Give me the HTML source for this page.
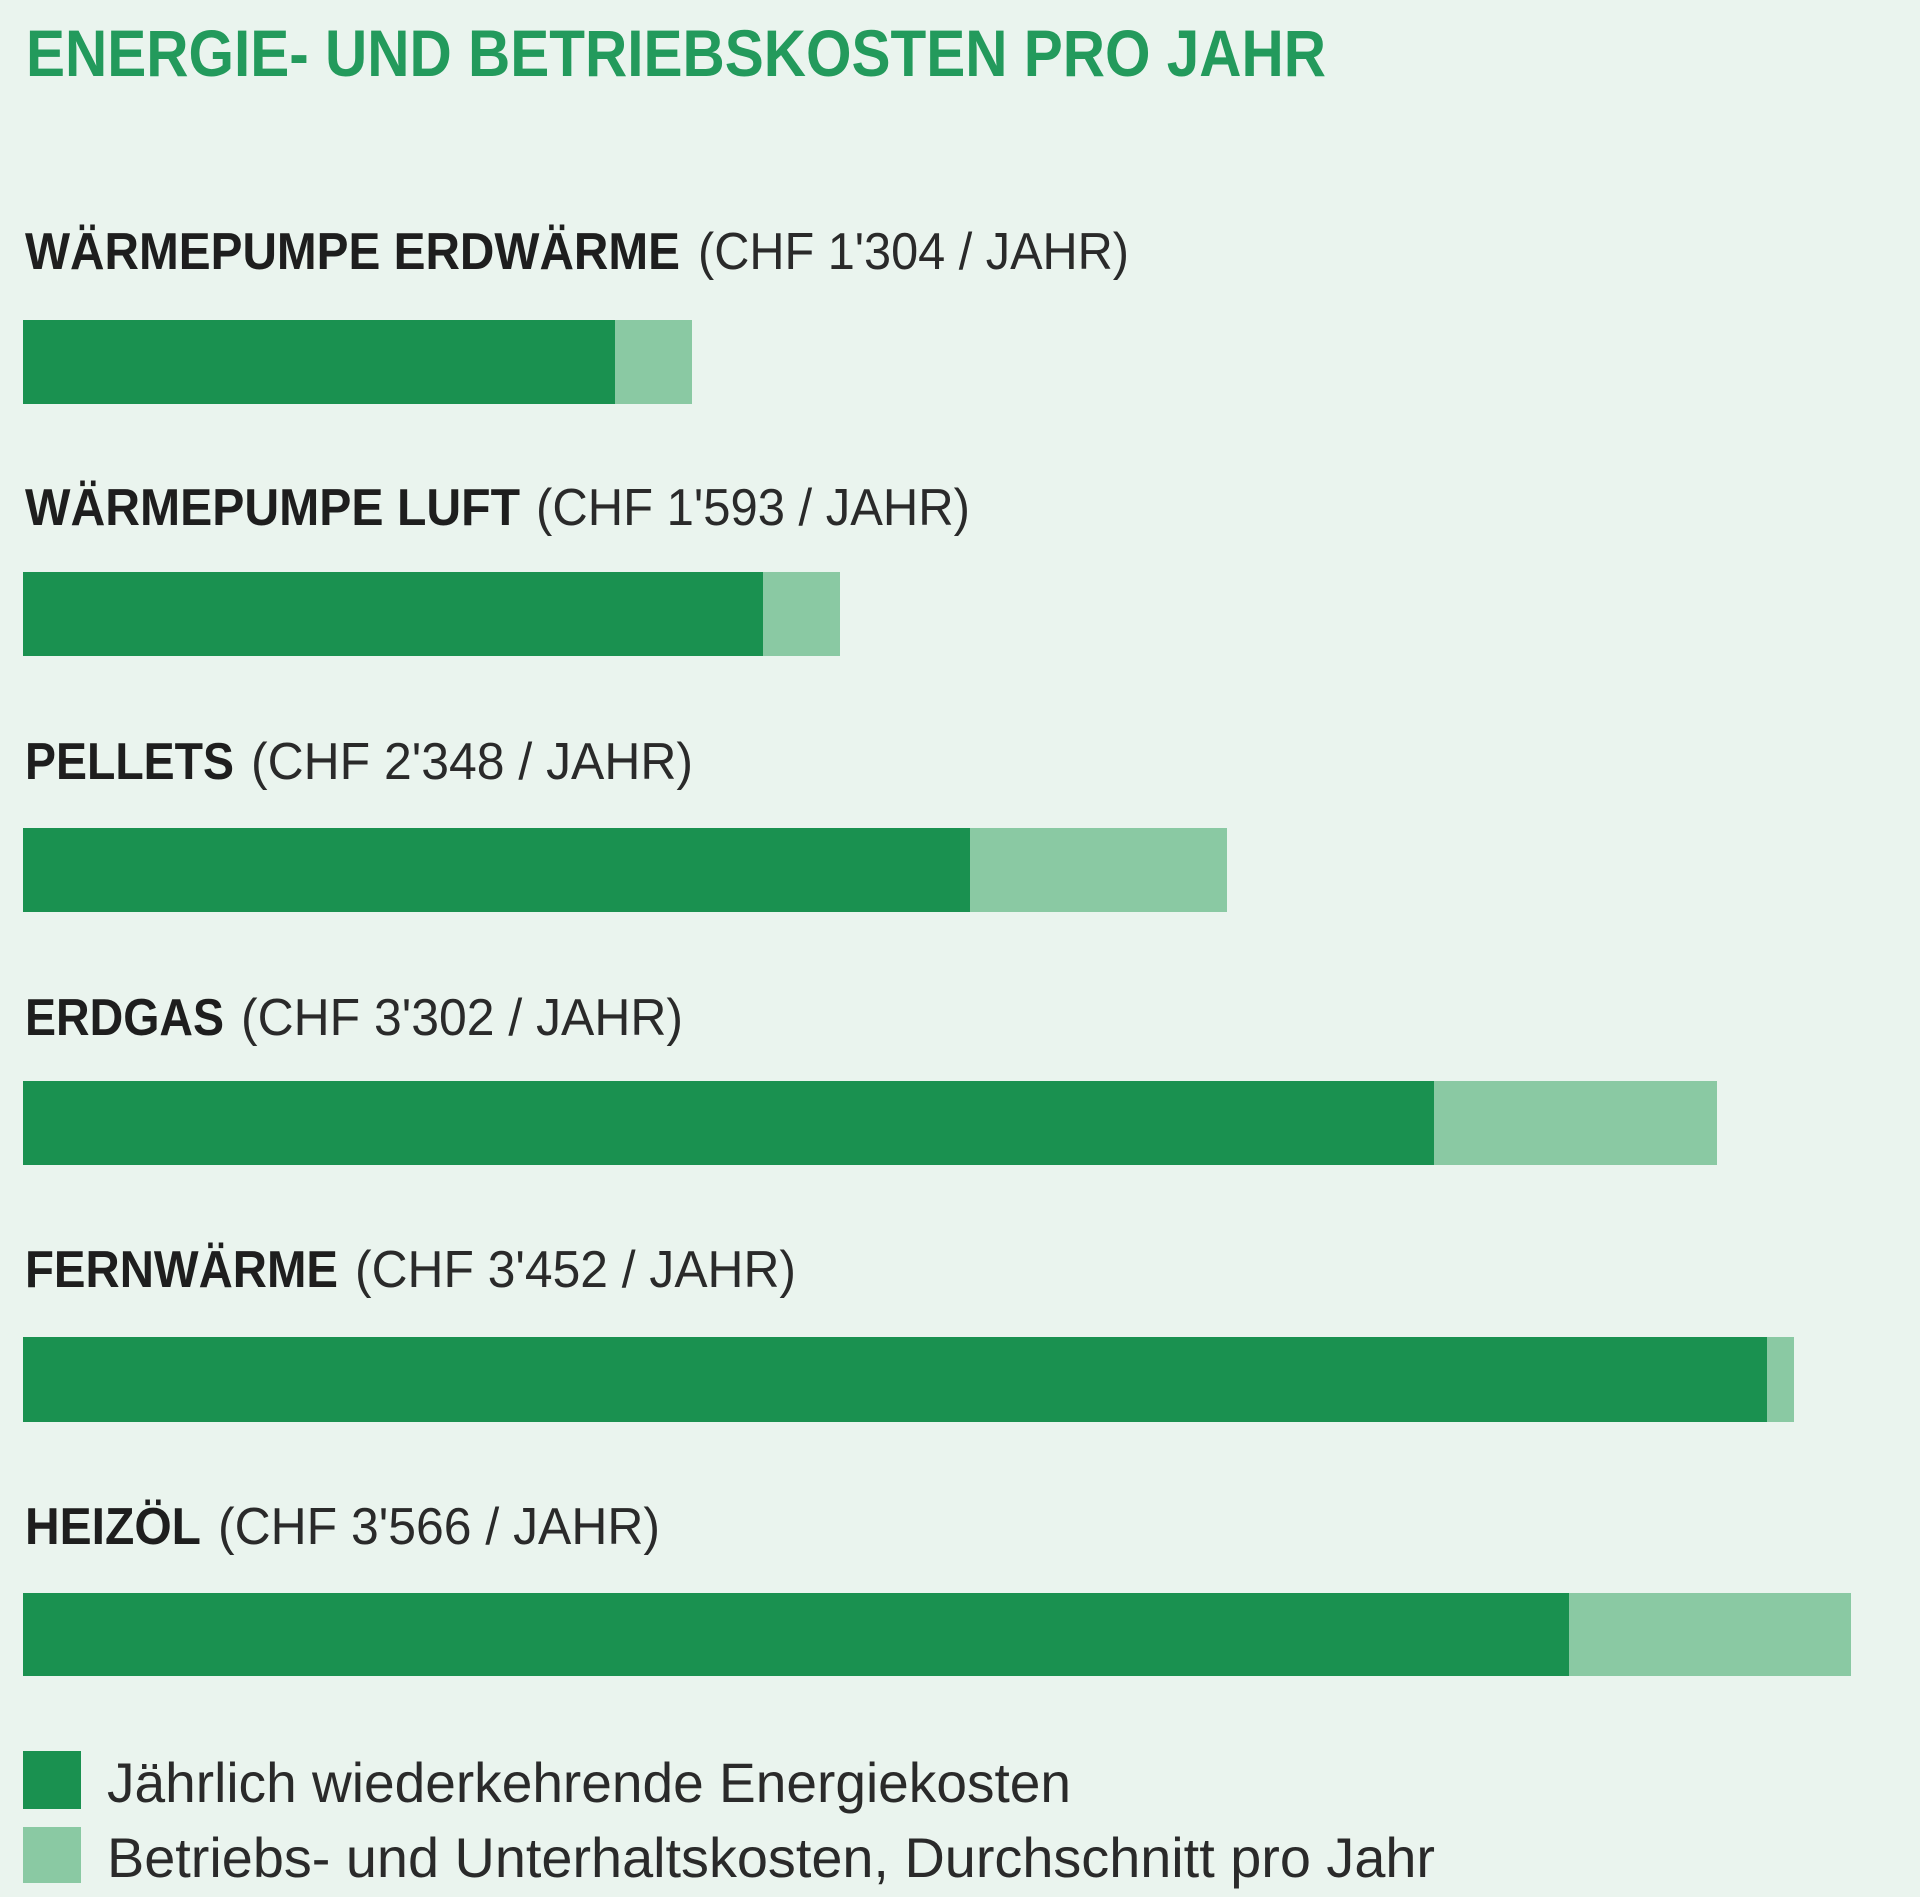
<!DOCTYPE html>
<html><head><meta charset="utf-8"><style>
html,body{margin:0;padding:0;background:#eaf4ee;}
svg{display:block;}
text{font-family:"Liberation Sans",sans-serif;}
.b{font-weight:bold;fill:#1e1e1e;font-size:52px;}
.r{fill:#2a2a2a;font-size:52px;}
</style></head><body>
<svg width="1920" height="1897" viewBox="0 0 1920 1897" xmlns="http://www.w3.org/2000/svg">
<rect width="1920" height="1897" fill="#eaf4ee"/>
<text x="26" y="76" font-size="66" font-weight="bold" fill="#239a5c" textLength="1300" lengthAdjust="spacingAndGlyphs">ENERGIE- UND BETRIEBSKOSTEN PRO JAHR</text>

<text class="b" x="25" y="269" textLength="655" lengthAdjust="spacingAndGlyphs">WÄRMEPUMPE ERDWÄRME</text>
<text class="r" x="698" y="269" textLength="431" lengthAdjust="spacingAndGlyphs">(CHF 1'304 / JAHR)</text>
<rect x="23" y="320" width="592" height="84" fill="#1a9150"/><rect x="615" y="320" width="77" height="84" fill="#8ac9a3"/>

<text class="b" x="25" y="525" textLength="495" lengthAdjust="spacingAndGlyphs">WÄRMEPUMPE LUFT</text>
<text class="r" x="536" y="525" textLength="434" lengthAdjust="spacingAndGlyphs">(CHF 1'593 / JAHR)</text>
<rect x="23" y="572" width="740" height="84" fill="#1a9150"/><rect x="763" y="572" width="77" height="84" fill="#8ac9a3"/>

<text class="b" x="25" y="779" textLength="209" lengthAdjust="spacingAndGlyphs">PELLETS</text>
<text class="r" x="251" y="779" textLength="442" lengthAdjust="spacingAndGlyphs">(CHF 2'348 / JAHR)</text>
<rect x="23" y="828" width="947" height="84" fill="#1a9150"/><rect x="970" y="828" width="257" height="84" fill="#8ac9a3"/>

<text class="b" x="25" y="1035" textLength="199" lengthAdjust="spacingAndGlyphs">ERDGAS</text>
<text class="r" x="241" y="1035" textLength="442" lengthAdjust="spacingAndGlyphs">(CHF 3'302 / JAHR)</text>
<rect x="23" y="1081" width="1411" height="84" fill="#1a9150"/><rect x="1434" y="1081" width="283" height="84" fill="#8ac9a3"/>

<text class="b" x="25" y="1287" textLength="313" lengthAdjust="spacingAndGlyphs">FERNWÄRME</text>
<text class="r" x="355" y="1287" textLength="441" lengthAdjust="spacingAndGlyphs">(CHF 3'452 / JAHR)</text>
<rect x="23" y="1337" width="1744" height="85" fill="#1a9150"/><rect x="1767" y="1337" width="27" height="85" fill="#8ac9a3"/>

<text class="b" x="25" y="1544" textLength="176" lengthAdjust="spacingAndGlyphs">HEIZÖL</text>
<text class="r" x="218" y="1544" textLength="442" lengthAdjust="spacingAndGlyphs">(CHF 3'566 / JAHR)</text>
<rect x="23" y="1593" width="1546" height="83" fill="#1a9150"/><rect x="1569" y="1593" width="282" height="83" fill="#8ac9a3"/>

<rect x="23" y="1751" width="58" height="58" fill="#1a9150"/>
<text x="107" y="1802" font-size="56" fill="#2a2a2a" textLength="964" lengthAdjust="spacingAndGlyphs">Jährlich wiederkehrende Energiekosten</text>
<rect x="23" y="1827" width="58" height="56" fill="#8ac9a3"/>
<text x="107" y="1877" font-size="56" fill="#2a2a2a" textLength="1328" lengthAdjust="spacingAndGlyphs">Betriebs- und Unterhaltskosten, Durchschnitt pro Jahr</text>
</svg>
</body></html>
